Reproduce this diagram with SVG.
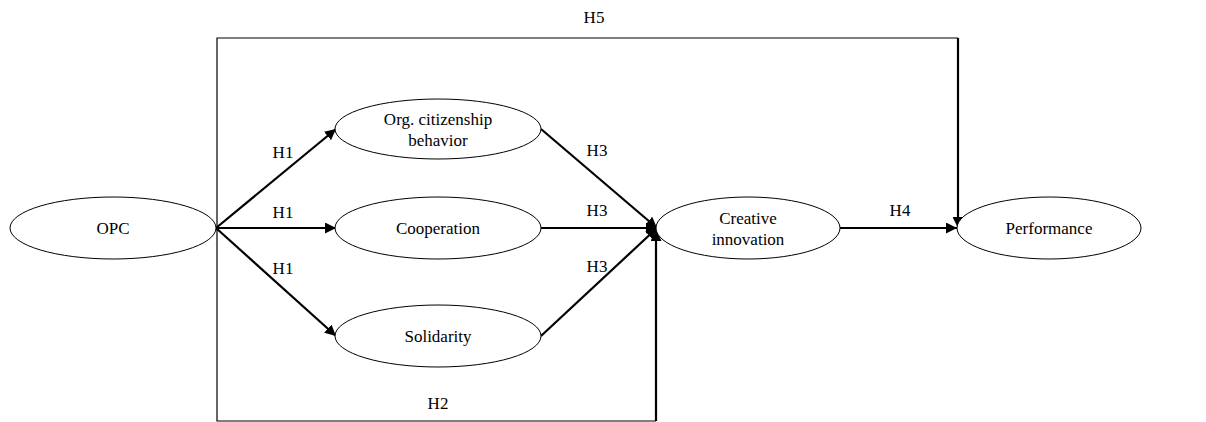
<svg xmlns="http://www.w3.org/2000/svg" width="1206" height="422" viewBox="0 0 1206 422">
<style>
.n{fill:#fff;stroke:#000;stroke-width:1}
.t{font-family:"Liberation Serif","Times New Roman",serif;font-size:17px;fill:#000;text-anchor:middle;dominant-baseline:central}
.e{fill:none;stroke:#000;stroke-width:2.2}
.b{fill:none;stroke:#000;stroke-width:1.2}
</style>
<defs>
<marker id="a" viewBox="0 0 10 10" refX="10" refY="5" markerWidth="5" markerHeight="5" orient="auto" markerUnits="strokeWidth">
<path d="M0,0 L10,5 L0,10 z" fill="#000"/>
</marker>
</defs>
<rect width="1206" height="422" fill="#fff"/>
<g id="connectors">
<polyline class="b" points="217,228 217,421 656,421"/>
<polyline class="b" points="217,228 217,38 958,38"/>
<polyline class="e" points="958,38 958,228" marker-end="url(#a)"/>
<line class="e" x1="656" y1="421" x2="656" y2="230" marker-end="url(#a)"/>
<line class="e" x1="216" y1="228" x2="336" y2="129" marker-end="url(#a)"/>
<line class="e" x1="216" y1="228" x2="336" y2="228" marker-end="url(#a)"/>
<line class="e" x1="216" y1="228" x2="336" y2="336" marker-end="url(#a)"/>
<line class="e" x1="541" y1="129" x2="657" y2="228" marker-end="url(#a)"/>
<line class="e" x1="541" y1="228" x2="657" y2="228" marker-end="url(#a)"/>
<line class="e" x1="541" y1="336" x2="657" y2="228" marker-end="url(#a)"/>
<line class="e" x1="840" y1="228" x2="957" y2="228" marker-end="url(#a)"/>
<text class="t" x="283" y="152">H1</text>
<text class="t" x="283" y="212">H1</text>
<text class="t" x="283" y="268">H1</text>
<text class="t" x="597" y="150">H3</text>
<text class="t" x="597" y="210">H3</text>
<text class="t" x="597" y="266">H3</text>
<text class="t" x="900" y="210">H4</text>
<text class="t" x="594" y="17">H5</text>
<text class="t" x="438" y="403">H2</text>
</g>
<g id="opc"><ellipse class="n" cx="113" cy="228" rx="103" ry="31"/><text class="t" x="113" y="228">OPC</text></g>
<g id="ocb"><ellipse class="n" cx="438" cy="129" rx="103" ry="30"/><text class="t" x="438" y="119">Org. citizenship</text><text class="t" x="438" y="140">behavior</text></g>
<g id="cooperation"><ellipse class="n" cx="438" cy="228" rx="103" ry="31"/><text class="t" x="438" y="228">Cooperation</text></g>
<g id="solidarity"><ellipse class="n" cx="438" cy="336" rx="103" ry="31"/><text class="t" x="438" y="336">Solidarity</text></g>
<g id="creative"><ellipse class="n" cx="748" cy="228" rx="92" ry="31"/><text class="t" x="748" y="218">Creative</text><text class="t" x="748" y="239">innovation</text></g>
<g id="performance"><ellipse class="n" cx="1049" cy="228" rx="92" ry="31"/><text class="t" x="1049" y="228">Performance</text></g>
</svg>
